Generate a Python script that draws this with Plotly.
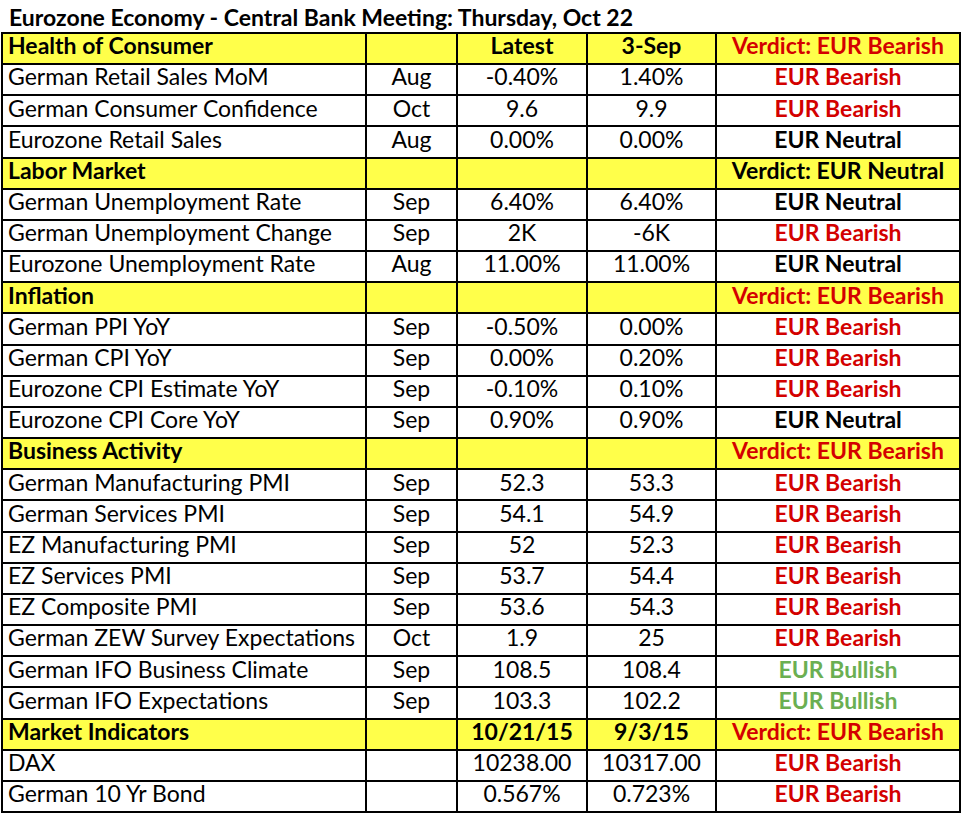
import plotly.graph_objects as go

title = "Eurozone Economy - Central Bank Meeting: Thursday, Oct 22"

# row kinds: 's' = section header (yellow), 'd' = data row
kinds = ['s', 'd', 'd', 'd', 's', 'd', 'd', 'd', 's', 'd', 'd', 'd', 'd', 's',
         'd', 'd', 'd', 'd', 'd', 'd', 'd', 'd', 's', 'd', 'd']
indicators = ["Health of Consumer", "German Retail Sales MoM", "German Consumer Confidence",
              "Eurozone Retail Sales", "Labor Market", "German Unemployment Rate",
              "German Unemployment Change", "Eurozone Unemployment Rate", "Inflation",
              "German PPI YoY", "German CPI YoY", "Eurozone CPI Estimate YoY",
              "Eurozone CPI Core YoY", "Business Activity", "German Manufacturing PMI",
              "German Services PMI", "EZ Manufacturing PMI", "EZ Services PMI",
              "EZ Composite PMI", "German ZEW Survey Expectations", "German IFO Business Climate",
              "German IFO Expectations", "Market Indicators", "DAX", "German 10 Yr Bond"]
periods = ["", "Aug", "Oct", "Aug", "", "Sep", "Sep", "Aug", "", "Sep", "Sep", "Sep", "Sep", "",
           "Sep", "Sep", "Sep", "Sep", "Sep", "Oct", "Sep", "Sep", "", "", ""]
latest = ["Latest", "-0.40%", "9.6", "0.00%", "", "6.40%", "2K", "11.00%", "", "-0.50%",
          "0.00%", "-0.10%", "0.90%", "", "52.3", "54.1", "52", "53.7", "53.6", "1.9",
          "108.5", "103.3", "10/21/15", "10238.00", "0.567%"]
previous = ["3-Sep", "1.40%", "9.9", "0.00%", "", "6.40%", "-6K", "11.00%", "", "0.00%",
            "0.20%", "0.10%", "0.90%", "", "53.3", "54.9", "52.3", "54.4", "54.3", "25",
            "108.4", "102.2", "9/3/15", "10317.00", "0.723%"]
verdicts = ["Verdict: EUR Bearish", "EUR Bearish", "EUR Bearish", "EUR Neutral",
            "Verdict: EUR Neutral", "EUR Neutral", "EUR Bearish", "EUR Neutral",
            "Verdict: EUR Bearish", "EUR Bearish", "EUR Bearish", "EUR Bearish", "EUR Neutral",
            "Verdict: EUR Bearish", "EUR Bearish", "EUR Bearish", "EUR Bearish", "EUR Bearish",
            "EUR Bearish", "EUR Bearish", "EUR Bullish", "EUR Bullish",
            "Verdict: EUR Bearish", "EUR Bearish", "EUR Bearish"]

# ---- styling / layout constants ----
YELLOW = "#FFFF4A"
RED = "#D30000"
GREEN = "#6BAF52"
BLACK = "#000000"
FONT = "Lato"
FS = 23
COL_W = [364, 91, 130, 129, 244]
W, H = 962, 814
TOP = 33          # y pixel of table top border line
ROW_H = 31.16

edges = [0]
for w in COL_W:
    edges.append(edges[-1] + w)
total_w = edges[-1]
nrows = len(kinds)


def vcolor(v):
    if "Bearish" in v:
        return RED
    if "Bullish" in v:
        return GREEN
    return BLACK


def fmt(col, always_bold=False):
    return [("<b>" + v + "</b>") if (v and (k == 's' or always_bold)) else v
            for k, v in zip(kinds, col)]


rows = list(range(nrows))
zfill = [[1 if k == 's' else 0] * len(COL_W) for k in kinds]

fig = go.Figure()
fig.add_trace(go.Heatmap(
    z=zfill, x=edges, y=rows,
    colorscale=[[0, "white"], [1, YELLOW]], zmin=0, zmax=1,
    showscale=False, xgap=2, ygap=2, hoverinfo="skip",
))

columns = [fmt(indicators), fmt(periods), fmt(latest), fmt(previous), fmt(verdicts, True)]
colors = [[BLACK] * nrows] * 4 + [[vcolor(v) for v in verdicts]]
for ci, (vals, cols) in enumerate(zip(columns, colors)):
    if ci == 0:
        xs = [edges[0] + 6] * nrows
        pos = "middle right"
    else:
        xs = [(edges[ci] + edges[ci + 1]) / 2] * nrows
        pos = "middle center"
    fig.add_trace(go.Scatter(
        x=xs, y=rows, mode="text", text=vals, textposition=pos,
        textfont=dict(family=FONT, size=FS, color=cols),
        hoverinfo="skip", showlegend=False, cliponaxis=False,
    ))

plot_h = nrows * ROW_H + 2
fig.update_layout(
    width=W, height=H,
    margin=dict(l=1, r=W - 1 - (total_w + 2), t=TOP - 1, b=H - (TOP - 1) - plot_h, pad=0, autoexpand=False),
    paper_bgcolor="white", plot_bgcolor=BLACK,
    showlegend=False,
    xaxis=dict(range=[-1, total_w + 1], visible=False, fixedrange=True),
    yaxis=dict(range=[nrows - 0.5 + 1 / ROW_H, -0.5 - 1 / ROW_H], visible=False, fixedrange=True),
    annotations=[dict(
        text="<b>" + title + "</b>", xref="paper", yref="paper",
        x=0, y=1, xanchor="left", yanchor="bottom", xshift=6, yshift=-1,
        showarrow=False, font=dict(family=FONT, size=FS, color=BLACK),
    )],
)

fig.write_html("out.html", config={"displayModeBar": False},
               post_script="document.body.style.margin='0';document.body.style.overflow='hidden';")
